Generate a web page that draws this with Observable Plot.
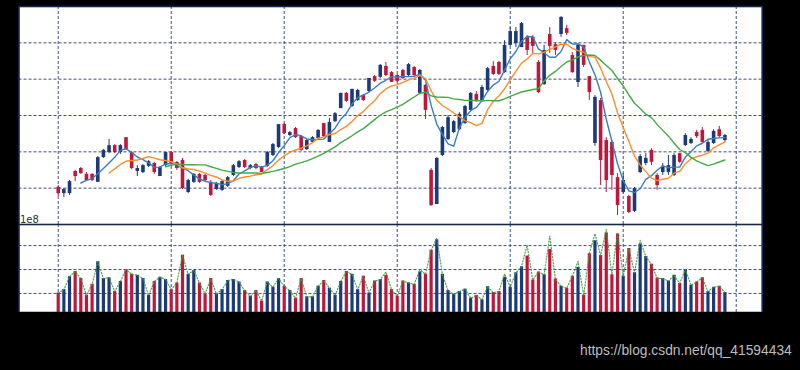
<!DOCTYPE html>
<html><head><meta charset="utf-8">
<script src="https://cdn.jsdelivr.net/npm/d3@7"></script>
<script src="https://cdn.jsdelivr.net/npm/@observablehq/plot@0.6"></script>
<style>
html,body{margin:0;padding:0;background:#000;width:800px;height:370px;overflow:hidden;}
#top,#vol{position:absolute;left:0;}
#top{top:0}
#vol{top:224px}
#wm{position:absolute;left:580px;top:344px;font-size:13.8px;line-height:1;font-family:"Liberation Sans",Arial,sans-serif;color:#bdbdbd;white-space:nowrap}
</style></head><body>
<div id="top"></div><div id="vol"></div>
<div id="wm">https://blog.csdn.net/qq_41594434</div>
<script>
// ---- data ----
const open = [
10.02,9.85,9.85,10.46,10.54,10.38,10.38,10.16,10.84,10.98,
11.17,10.98,11.39,10.98,10.46,10.43,10.60,10.68,10.32,10.62,
10.98,10.71,10.76,9.88,10.16,10.38,10.35,10.16,9.96,9.94,
10.05,10.35,10.57,10.76,10.54,10.65,10.57,10.60,10.90,11.12,
11.75,11.45,11.64,11.42,11.06,11.26,11.37,11.78,11.26,11.83,
12.19,12.61,12.25,12.41,12.55,12.66,13.07,13.05,13.35,13.18,
13.10,13.24,13.10,13.32,12.61,12.83,10.49,9.55,10.90,11.34,
11.53,11.61,11.78,12.14,12.58,12.41,12.69,13.35,13.46,13.18,
13.93,13.98,13.87,14.15,14.15,13.46,12.85,14.23,13.95,14.23,
14.39,13.65,12.91,13.93,13.07,11.23,12.41,11.31,11.26,10.29,
9.88,9.77,9.36,10.43,10.68,11.04,10.35,10.43,10.43,10.35,
10.95,11.17,11.23,11.53,11.59,11.01,11.23,11.61,11.31];
const close = [
9.85,9.96,10.18,10.32,10.40,10.21,10.21,10.84,11.04,11.17,
10.98,11.17,11.06,10.54,10.54,10.62,10.73,10.43,10.57,10.98,
10.68,10.54,9.99,10.21,10.38,10.16,10.21,9.80,10.13,10.18,
10.29,10.62,10.73,10.57,10.62,10.54,10.43,10.98,11.20,11.75,
11.50,11.53,11.39,11.04,11.31,11.39,11.59,11.42,11.81,12.05,
12.61,12.39,12.72,12.69,12.41,13.02,12.94,13.38,13.10,12.91,
12.94,13.02,13.40,13.10,13.24,12.14,9.52,10.82,11.67,11.94,
11.83,12.03,12.25,12.61,12.39,12.77,13.29,13.13,13.13,13.93,
14.31,14.31,14.53,13.79,13.90,12.63,13.79,13.90,13.79,14.70,
14.26,13.18,13.93,13.38,12.63,12.50,10.76,10.21,10.35,9.52,
10.21,9.33,9.99,10.87,10.82,10.71,10.07,10.60,10.62,10.90,
10.71,11.45,11.34,11.42,11.26,11.26,11.56,11.42,11.45];
const high = [
10.07,9.99,10.21,10.49,10.57,10.43,10.40,10.87,11.06,11.34,
11.20,11.20,11.39,11.01,10.62,10.65,10.76,10.71,10.60,10.98,
11.01,10.73,10.82,10.24,10.40,10.40,10.38,10.21,10.16,10.21,
10.32,10.65,10.76,10.79,10.65,10.68,10.60,11.01,11.23,11.75,
11.78,11.56,11.67,11.45,11.34,11.42,11.61,11.78,11.92,12.08,
12.61,12.63,12.72,12.72,12.58,13.02,13.10,13.40,13.46,13.21,
13.13,13.27,13.43,13.35,13.27,12.85,10.54,10.84,11.70,12.00,
11.86,12.08,12.28,12.63,12.66,12.83,13.32,13.49,13.49,14.06,
14.42,14.42,14.56,14.20,14.20,13.51,13.93,14.42,14.01,14.72,
14.48,13.73,13.98,13.93,13.07,12.55,12.47,11.39,11.31,10.40,
10.40,9.80,10.02,10.93,10.95,11.09,10.40,10.68,10.90,10.95,
10.95,11.50,11.39,11.59,11.67,11.31,11.61,11.70,11.48];
const low = [
9.77,9.74,9.80,10.18,10.38,10.18,10.18,10.16,10.82,10.95,
10.95,10.93,11.04,10.51,10.32,10.40,10.57,10.38,10.32,10.60,
10.65,10.49,9.96,9.85,10.13,10.13,10.18,9.77,9.94,9.91,
10.02,10.32,10.54,10.54,10.51,10.51,10.43,10.57,10.87,11.09,
11.48,11.42,11.37,11.01,11.04,11.23,11.34,11.39,11.26,11.81,
12.19,12.36,12.22,12.39,12.39,12.63,12.91,13.02,13.07,12.91,
12.91,12.99,13.07,13.07,12.58,11.89,9.50,9.55,10.87,11.31,
11.50,11.59,11.75,12.11,12.36,12.39,12.66,13.10,13.10,13.16,
13.90,13.87,13.87,13.65,13.71,12.61,12.83,13.71,13.65,14.15,
14.20,13.16,12.77,13.32,12.41,11.15,10.07,9.88,9.94,9.25,
9.85,9.30,9.33,10.40,10.62,10.62,9.94,10.35,10.35,10.32,
10.68,11.15,11.20,11.37,11.23,10.98,11.20,11.37,11.26];
// volume, millions of shares
const volume = [
51,58,85,96,81,46,69,116,81,83,
54,75,100,90,88,81,46,75,84,79,
58,72,130,90,98,72,49,81,49,58,
77,79,74,56,44,56,34,74,63,81,
65,56,40,81,43,43,65,77,61,46,
75,96,90,58,86,51,76,79,88,58,
44,76,72,69,95,90,140,162,90,56,
48,54,59,40,46,37,64,52,54,84,
63,93,106,128,78,95,89,142,80,65,
61,86,104,46,133,160,129,176,89,174,
86,144,93,153,127,111,82,81,76,88,
71,100,67,74,83,54,63,65,52];
// dotted volume line, millions
const volumeLine = [
51,58,85,96,81,46,69,116,81,83,
54,75,100,90,88,81,46,75,84,79,
58,72,130,90,98,72,49,81,49,58,
77,79,74,56,44,56,34,74,63,81,
65,56,40,81,43,43,65,77,61,46,
75,96,90,58,86,51,76,79,95,58,
44,76,72,69,100,90,140,166,90,56,
48,54,59,40,46,37,64,52,54,91,
63,93,106,151,78,95,89,170,80,65,
61,86,117,46,133,175,129,184,89,177,
86,144,93,161,127,111,82,81,76,88,
71,100,67,74,83,54,63,65,52];
const xTicks = [0,20,40,60,80,100,120];
const priceTicks = [10,11,12,13,14];
const volTicks = [0.5e8,1.0e8,1.5e8];

// ---- styles ----
const RED = "#c0163a", NAVY = "#1c3a78";
const GRID = {stroke:"#2b3c70", strokeWidth:0.9, strokeDasharray:"3,2"};
const SPINE = {stroke:"#16264f", strokeWidth:1.6};
const X_DOMAIN = [-6.94, 124.6];
const M = {marginLeft:18.5, marginRight:38.3};

const rows = open.map((o,i)=>({i, open:o, close:close[i], high:high[i], low:low[i],
  vol:volume[i]*1e6, volLine:volumeLine[i]*1e6, col: close[i]>=o ? NAVY : RED}));

const topPlot = Plot.plot({
  width:800, height:224, marginTop:6, marginBottom:0, ...M,
  style:{background:"transparent", fontFamily:"DejaVu Sans"},
  x:{domain:X_DOMAIN, axis:null},
  y:{domain:[9,15], axis:null},
  color:{type:"identity"},
  marks:[
    Plot.frame({fill:"white"}),
    Plot.ruleX(xTicks, GRID),
    Plot.ruleY(priceTicks, GRID),
    Plot.ruleX(rows, {x:"i", y1:"low", y2:"high", stroke:"col", strokeWidth:1}),
    Plot.ruleX(rows, {x:"i", y1:"open", y2:"close", stroke:"col", strokeWidth:3.6}),
    Plot.lineY(rows, Plot.windowY({k:5, anchor:"end", strict:true}, {x:"i", y:"close", stroke:"#3b7dbf", strokeWidth:1.4})),
    Plot.lineY(rows, Plot.windowY({k:10, anchor:"end", strict:true}, {x:"i", y:"close", stroke:"#ff8c2a", strokeWidth:1.4})),
    Plot.lineY(rows, Plot.windowY({k:20, anchor:"end", strict:true}, {x:"i", y:"close", stroke:"#44aa44", strokeWidth:1.4})),
    Plot.text(["1e8"], {frameAnchor:"bottom-left", dx:1, dy:-2, textAnchor:"start", lineAnchor:"bottom", fill:"#333", fontSize:10}),
    Plot.frame(SPINE)
  ]
});
document.getElementById("top").appendChild(topPlot);

const volPlot = Plot.plot({
  width:800, height:88, marginTop:0, marginBottom:0, ...M,
  style:{background:"transparent", fontFamily:"DejaVu Sans"},
  x:{domain:X_DOMAIN, axis:null},
  y:{domain:[0.102e8, 1.94e8], axis:null},
  color:{type:"identity"},
  marks:[
    Plot.frame({fill:"white"}),
    Plot.ruleX(xTicks, GRID),
    Plot.ruleY(volTicks, GRID),
    Plot.ruleX(rows, {x:"i", y1:0, y2:"vol", stroke:"col", strokeWidth:3.2, clip:true}),
    Plot.lineY(rows, {x:"i", y:"volLine", stroke:"#3f9a3f", strokeWidth:1.2, strokeDasharray:"1.2,1.8", strokeOpacity:0.9}),
    Plot.frame(SPINE)
  ]
});
document.getElementById("vol").appendChild(volPlot);
</script>
</body></html>
